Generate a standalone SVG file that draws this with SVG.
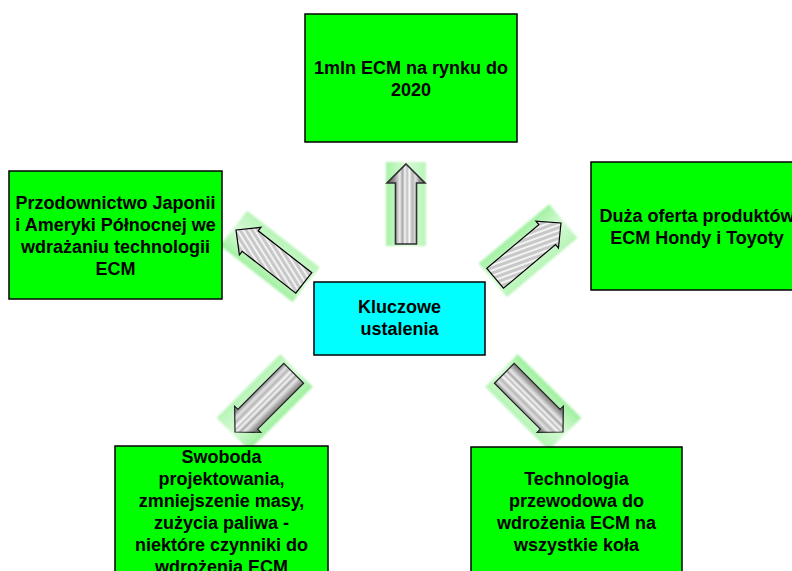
<svg xmlns="http://www.w3.org/2000/svg" width="792" height="571" viewBox="0 0 792 571">
<defs>
<linearGradient id="glow" x1="-24" y1="0" x2="24" y2="0" gradientUnits="userSpaceOnUse">
<stop offset="0" stop-color="#9cf09c"/>
<stop offset="0.5" stop-color="#d8fad8"/>
<stop offset="1" stop-color="#b4f4b4"/>
</linearGradient>
<linearGradient id="stripes" x1="-14" y1="0" x2="14" y2="0" gradientUnits="userSpaceOnUse">
<stop offset="0" stop-color="#7a7a7a"/>
<stop offset="0.15" stop-color="#b0b0b0"/>
<stop offset="0.28" stop-color="#e8e8e8"/>
<stop offset="0.38" stop-color="#a8a8a8"/>
<stop offset="0.46" stop-color="#f4f4f4"/>
<stop offset="0.54" stop-color="#c0c0c0"/>
<stop offset="0.62" stop-color="#f8f8f8"/>
<stop offset="0.72" stop-color="#b8b8b8"/>
<stop offset="0.85" stop-color="#e0e0e0"/>
<stop offset="1" stop-color="#8a8a8a"/>
</linearGradient>
<pattern id="hatch" width="5" height="5" patternUnits="userSpaceOnUse" patternTransform="rotate(20)">
<rect width="5" height="5" fill="#c8c8c8"/>
<rect width="2" height="5" fill="#f2f2f2"/>
</pattern>
<filter id="soft" x="-20%" y="-20%" width="140%" height="140%">
<feGaussianBlur stdDeviation="1.2"/>
</filter>
<g id="arrow">
<rect x="-20" y="-2" width="40" height="84" fill="url(#glow)" filter="url(#soft)"/>
<polygon points="0,0 19,19 10.5,19 10.5,80 -10.5,80 -10.5,19 -19,19" fill="url(#stripes)" stroke="#303030" stroke-width="1.6"/>
</g>
<g id="arrowd">
<rect x="-23" y="-3" width="46" height="90" fill="url(#glow)" filter="url(#soft)"/>
<polygon points="0,0 18.5,18 14,18 14,83 -14,83 -14,18 -18.5,18" fill="url(#stripes)" stroke="#202020" stroke-width="1.2"/>
</g>
<g id="arrowh">
<rect x="-22" y="-3" width="44" height="92" fill="url(#glow)" filter="url(#soft)"/>
<polygon points="0,0 17.5,18 13,18 13,86 -13,86 -13,18 -17.5,18" fill="url(#hatch)" stroke="#000" stroke-width="1.2"/>
</g>
</defs>
<style>
.box{stroke:#000;stroke-width:1.5}
.g{fill:#00ff00}
.c{fill:#00ffff}
text{font-family:"Liberation Sans",Arial,sans-serif;font-weight:bold;font-size:18px;fill:#000;text-anchor:middle}
</style>
<g id="connectors">
<use href="#arrow" transform="translate(406,164)"/>
<use href="#arrowh" transform="translate(236,230) rotate(-52)"/>
<use href="#arrowh" transform="translate(561,223) rotate(50)"/>
<use href="#arrowd" transform="translate(235,432) rotate(-135)"/>
<use href="#arrowd" transform="translate(563,432) rotate(135)"/>
</g>
<g id="node-top">
<rect class="box g" x="305" y="14" width="212" height="128"/>
<text x="411" y="74">1mln ECM na rynku do</text>
<text x="411" y="96">2020</text>
</g>
<g id="node-left">
<rect class="box g" x="9" y="171" width="213" height="128"/>
<text x="115.5" y="209">Przodownictwo Japonii</text>
<text x="115.5" y="231">i Ameryki Północnej we</text>
<text x="115.5" y="253">wdrażaniu technologii</text>
<text x="115.5" y="275">ECM</text>
</g>
<g id="node-center">
<rect class="box c" x="314" y="282" width="171" height="73"/>
<text x="399.5" y="313">Kluczowe</text>
<text x="399.5" y="335">ustalenia</text>
</g>
<g id="node-right">
<rect class="box g" x="591" y="162" width="212" height="128"/>
<text x="697" y="222">Duża oferta produktów</text>
<text x="697" y="244">ECM Hondy i Toyoty</text>
</g>
<g id="node-bottom-left">
<rect class="box g" x="115" y="446" width="213" height="140"/>
<text x="221.5" y="463">Swoboda</text>
<text x="221.5" y="485">projektowania,</text>
<text x="221.5" y="507">zmniejszenie masy,</text>
<text x="221.5" y="529">zużycia paliwa -</text>
<text x="221.5" y="551">niektóre czynniki do</text>
<text x="221.5" y="573">wdrożenia ECM</text>
</g>
<g id="node-bottom-right">
<rect class="box g" x="471" y="447" width="211" height="140"/>
<text x="576.5" y="485">Technologia</text>
<text x="576.5" y="507">przewodowa do</text>
<text x="576.5" y="529">wdrożenia ECM na</text>
<text x="576.5" y="551">wszystkie koła</text>
</g>
</svg>
